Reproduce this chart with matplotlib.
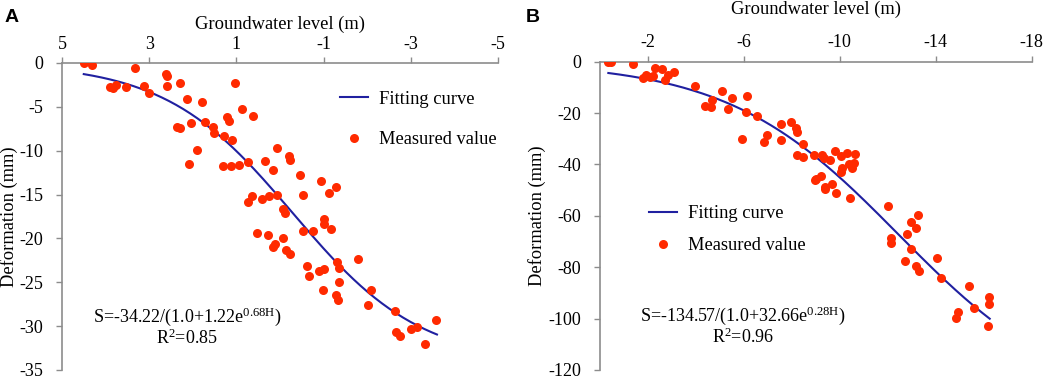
import numpy as np
import matplotlib.pyplot as plt

plt.rcParams['font.family'] = ['Liberation Serif', 'DejaVu Serif']
plt.rcParams['axes.unicode_minus'] = False
plt.rcParams['mathtext.fontset'] = 'custom'
plt.rcParams['mathtext.rm'] = 'Liberation Serif'
plt.rcParams['mathtext.it'] = 'Liberation Serif'

# Panel A: groundwater level (m) and deformation (mm)
a_level = [4.49, 4.32, 3.32, 3.90, 3.83, 3.77, 3.52, 3.12, 3.00, 2.61, 2.58, 2.58,
           2.29, 2.14, 1.78, 2.37, 2.29, 2.04, 1.72, 1.53, 1.51, 1.28, 1.22, 1.18,
           1.11, 1.03, 0.86, 0.62, 1.90, 2.09, 1.31, 1.13, 0.95, 0.73, 0.34, 0.15,
           0.06, -0.21, -0.23, -0.47, -0.93, -1.28, -1.12, 0.73, 0.64, 0.41, 0.26,
           0.08, -0.08, -0.11, -0.52, 0.52, 0.28, 0.17, 0.11, -0.08, -0.14, -0.23,
           -0.52, -0.75, -1.02, -1.02, -1.16, -0.63, -0.67, -0.90, -1.00, -0.99,
           -1.31, -1.36, -1.35, -1.28, -1.34, -1.80, -2.08, -2.01, -2.64, -2.66,
           -2.75, -3.00, -3.15, -3.33, -3.58]
a_deform = [-0.04, -0.2, -0.6, -2.7, -2.8, -2.5, -2.7, -2.6, -3.4, -1.2, -1.5, -2.6,
            -2.25, -4.07, -4.5, -7.27, -7.46, -6.8, -6.7, -7.27, -7.96, -8.33, -6.13,
            -6.58, -8.8, -2.25, -5.3, -6.0, -9.9, -11.5, -11.7, -11.7, -11.6, -11.3,
            -11.2, -12.2, -9.7, -10.6, -11.1, -12.8, -13.5, -14.1, -14.8, -15.8,
            -15.2, -15.5, -15.2, -15.0, -16.6, -17.1, -15.0, -19.4, -19.6, -21.0,
            -20.6, -20.0, -21.3, -21.8, -19.2, -19.1, -17.8, -18.3, -18.9, -23.1,
            -24.3, -23.7, -23.5, -25.9, -22.7, -23.4, -25.0, -26.5, -27.0, -22.3,
            -25.9, -27.6, -28.3, -30.7, -31.1, -30.3, -30.1, -32.0, -29.3]
a_fit = [-34.22, 1.22, 0.68]       # S = a/(1.0 + b*e^(c*H))
a_fit_range = [4.5, -3.6]

# Panel B
b_level = [-0.35, -0.48, -1.38, -1.80, -1.94, -2.07, -2.21, -2.28, -2.60, -2.70,
           -2.83, -3.10, -3.97, -4.36, -4.63, -4.66, -5.08, -5.32, -5.49, -6.15,
           -6.09, -5.92, -6.53, -6.85, -6.98, -7.54, -7.54, -7.95, -8.19, -8.23,
           -8.20, -8.48, -8.48, -8.92, -9.27, -9.34, -8.99, -9.20, -9.82, -9.61,
           -9.38, -9.68, -10.03, -10.10, -10.07, -10.30, -10.37, -10.49, -10.58,
           -10.62, -8.96, -9.38, -9.85, -10.41, -11.99, -12.13, -12.15, -12.79,
           -12.97, -13.18, -13.24, -12.97, -12.73, -13.18, -13.31, -14.04, -14.22,
           -14.84, -14.91, -15.38, -15.59, -16.22, -16.22, -16.18]
b_deform = [0.0, 0.0, -0.9, -6.5, -5.2, -6.1, -5.6, -2.3, -2.8, -7.1, -5.2, -3.9,
            -9.5, -17.1, -17.5, -14.9, -11.3, -18.4, -14.3, -13.3, -19.7, -30.1,
            -21.1, -31.1, -28.5, -24.2, -30.5, -23.3, -25.7, -27.2, -36.3, -37.0,
            -32.1, -36.3, -36.3, -37.6, -45.8, -44.5, -34.6, -38.2, -48.6, -47.7,
            -42.8, -41.5, -36.6, -35.6, -39.9, -41.2, -39.3, -35.9, -46.0, -49.5,
            -51.2, -52.9, -56.0, -68.7, -70.7, -67.2, -62.3, -64.6, -59.7, -73.0,
            -77.5, -79.5, -81.4, -76.5, -84.3, -99.8, -97.5, -87.3, -95.7, -91.4,
            -94.3, -102.8]
b_fit = [-134.57, 32.66, 0.28]
b_fit_range = [-0.35, -16.25]

line_color = '#2020a0'
dot_color = '#ff2a00'
spine_color = '#8c8c8c'

fig = plt.figure(figsize=(10.52, 3.77), dpi=100)
axA = fig.add_axes([0.0589, 0.0186, 0.4145, 0.8143])
axB = fig.add_axes([0.5703, 0.0186, 0.4104, 0.8177])


def draw(ax, level, deform, fit, fit_range, xlim, xticks, ylim, yticks,
         leg_loc, leg_space, eq, r2, eq_pos, r2_pos, xpad, ypad):
    h = np.linspace(fit_range[0], fit_range[1], 200)
    s = fit[0] / (1.0 + fit[1] * np.exp(fit[2] * h))
    ax.plot(h, s, color=line_color, lw=1.5, label='Fitting curve', zorder=2)
    ax.plot(level, deform, 'o', color=dot_color, ms=6.5, mec='none',
            label='Measured value', zorder=3)
    ax.set_xlim(xlim)
    ax.set_ylim(ylim)
    ax.set_xticks(xticks)
    ax.set_yticks(yticks)
    ax.xaxis.tick_top()
    ax.xaxis.set_label_position('top')
    ax.set_xlabel('Groundwater level (m)', fontsize=13.3, labelpad=xpad)
    ax.set_ylabel('Deformation (mm)', fontsize=13.3, labelpad=ypad)
    ax.tick_params(labelsize=13, direction='out', length=4, color=spine_color,
                   width=1)
    ax.tick_params(axis='y', pad=9.5)
    for side in ['right', 'bottom']:
        ax.spines[side].set_visible(False)
    for side in ['left', 'top']:
        ax.spines[side].set_color(spine_color)
        ax.spines[side].set_linewidth(1.2)
    ax.set_facecolor('none')
    ax.legend(loc='upper left', bbox_to_anchor=leg_loc, frameon=False,
              fontsize=13.3, handlelength=1.5, handletextpad=0.6,
              labelspacing=leg_space, borderpad=0, borderaxespad=0)
    ax.text(eq_pos[0], eq_pos[1], eq, transform=ax.transAxes, ha='center',
            va='center', fontsize=13)
    ax.text(r2_pos[0], r2_pos[1], r2, transform=ax.transAxes, ha='center',
            va='center', fontsize=13)


draw(axA, a_level, a_deform, a_fit, a_fit_range, (5, -5), [5, 3, 1, -1, -3, -5],
     (-35, 0), list(range(-35, 1, 5)), (0.638, 0.91), 1.27,
     r'S=-34.22/(1.0+1.22e$^{\mathrm{0.68H}}$)', r'R$^{\mathrm{2}}$=0.85',
     (0.288, 0.175), (0.286, 0.104), 4.5, 1)
draw(axB, b_level, b_deform, b_fit, b_fit_range, (0, -18), [-2, -6, -10, -14, -18],
     (-120, 0), list(range(-120, 1, 20)), (0.1135, 0.535), 0.83,
     r'S=-134.57/(1.0+32.66e$^{\mathrm{0.28H}}$)', r'R$^{\mathrm{2}}$=0.96',
     (0.331, 0.176), (0.331, 0.106), 15, 2)

fig.text(0.004, 0.975, 'A', fontsize=14, fontweight='bold',
         family='Liberation Sans', va='top')
fig.text(0.5, 0.975, 'B', fontsize=14, fontweight='bold',
         family='Liberation Sans', va='top')

fig.savefig('out.png', dpi=100)
